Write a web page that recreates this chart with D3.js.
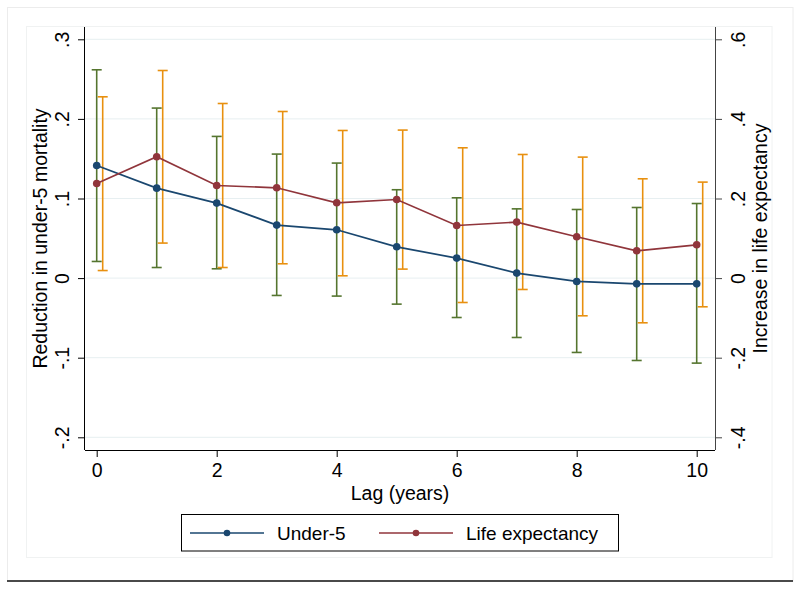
<!DOCTYPE html>
<html>
<head>
<meta charset="utf-8">
<script src="https://cdn.jsdelivr.net/npm/d3@7"></script>
<style>
  body { margin: 0; background: #fff; }
  text { font-family: "Liberation Sans", Arial, Helvetica, sans-serif; fill: #000; }
</style>
</head>
<body>
<script>
// Data
var lags = [0, 1, 2, 3, 4, 5, 6, 7, 8, 9, 10];

// Under-5 mortality reduction (left axis) with 95% CI
var u5Est = [0.1415, 0.113, 0.0942, 0.0666, 0.0607, 0.0393, 0.0251, 0.0063, -0.0042, -0.0072, -0.0072];
var u5Lo  = [0.0209, 0.0133, 0.0117, -0.0218, -0.0226, -0.0327, -0.0495, -0.0746, -0.0934, -0.1035, -0.1068];
var u5Hi  = [0.2617, 0.2136, 0.178, 0.1558, 0.1445, 0.111, 0.1009, 0.087, 0.0862, 0.0887, 0.0937];

// Life expectancy increase (right axis) with 95% CI
var leEst = [0.2377, 0.3048, 0.2327, 0.2269, 0.1892, 0.1975, 0.1322, 0.1407, 0.1038, 0.0686, 0.0837];
var leLo  = [0.019, 0.088, 0.0266, 0.036, 0.0058, 0.0226, -0.0613, -0.0286, -0.0947, -0.1123, -0.0721];
var leHi  = [0.4555, 0.5216, 0.4387, 0.4186, 0.3709, 0.3719, 0.3274, 0.3106, 0.304, 0.2495, 0.2412];

var xTicks = [0, 2, 4, 6, 8, 10];
var leftTicks = [-0.2, -0.1, 0, 0.1, 0.2, 0.3];
var rightTicks = [-0.4, -0.2, 0, 0.2, 0.4, 0.6];

var width = 800, height = 589;
var plotL = 85, plotR = 715, plotT = 27, plotB = 450;

var navy = "#1a476f", maroon = "#90353b", green = "#55752f", orange = "#e8900f";

var svg = d3.select("body").append("svg")
    .attr("width", width)
    .attr("height", height);

// frames
svg.append("rect").attr("x", 7.5).attr("y", 7.5).attr("width", 785.5).attr("height", 573.5)
    .attr("fill", "#fff").attr("stroke", "#ececec");
svg.append("rect").attr("x", 26.5).attr("y", 26.5).attr("width", 745.5).attr("height", 531)
    .attr("fill", "#fff").attr("stroke", "#f0f2f2");
svg.append("line").attr("x1", 7).attr("x2", 793).attr("y1", 581).attr("y2", 581)
    .attr("stroke", "#4a4a4a").attr("stroke-width", 2);

// scales
var x = d3.scaleLinear().domain([0, 10]).range([96.7, 696.7]);
var yL = d3.scaleLinear().domain([-0.2, 0.3]).range([437.3, 39.3]);
var yR = d3.scaleLinear().domain([-0.4, 0.6]).range([437.3, 39.3]);

var fmt = function(d) {
    if (Math.abs(d) < 1e-9) return "0";
    return (d < 0 ? "-" : "") + String(Math.abs(d).toFixed(1)).replace(/^0/, "");
};

// gridlines
svg.append("g").selectAll("line")
    .data(leftTicks)
    .enter().append("line")
    .attr("x1", plotL).attr("x2", plotR)
    .attr("y1", d => yL(d)).attr("y2", d => yL(d))
    .attr("stroke", "#e7eff1").attr("stroke-width", 1);

// axes
var xAxis = svg.append("g")
    .attr("transform", "translate(0," + plotB + ")")
    .call(d3.axisBottom(x).tickValues(xTicks).tickSize(7).tickPadding(6).tickFormat(d3.format("d")));
xAxis.select(".domain").attr("d", "M" + plotL + ",0.5H" + plotR).attr("stroke", "#000");

var leftAxis = svg.append("g")
    .attr("transform", "translate(" + plotL + ",0)")
    .call(d3.axisLeft(yL).tickValues(leftTicks).tickSize(7).tickFormat(fmt));
leftAxis.select(".domain").attr("d", "M-0.5," + plotT + "V" + plotB).attr("stroke", "#000");
leftAxis.selectAll(".tick text")
    .attr("x", 0).attr("dy", 0)
    .attr("transform", "translate(-16.5,0) rotate(-90)")
    .attr("text-anchor", "middle");

var rightAxis = svg.append("g")
    .attr("transform", "translate(" + plotR + ",0)")
    .call(d3.axisRight(yR).tickValues(rightTicks).tickSize(7).tickFormat(fmt));
rightAxis.select(".domain").attr("d", "M0.5," + plotT + "V" + plotB).attr("stroke", "#444");
rightAxis.selectAll(".tick line").attr("stroke", "#444");
rightAxis.selectAll(".tick text")
    .attr("x", 0).attr("dy", 0)
    .attr("transform", "translate(29.5,0) rotate(-90)")
    .attr("text-anchor", "middle");

svg.selectAll(".tick text").style("font-size", "19.5px").attr("fill", "#000")
    .style("font-family", "'Liberation Sans', Arial, sans-serif");

// axis titles
svg.append("text")
    .attr("transform", "translate(47," + (plotT + plotB) / 2 + ") rotate(-90)")
    .attr("text-anchor", "middle")
    .style("font-size", "19.5px")
    .text("Reduction in under-5 mortality");

svg.append("text")
    .attr("transform", "translate(767," + (plotT + plotB) / 2 + ") rotate(-90)")
    .attr("text-anchor", "middle")
    .style("font-size", "19.5px")
    .text("Increase in life expectancy");

svg.append("text")
    .attr("x", (plotL + plotR) / 2)
    .attr("y", 500)
    .attr("text-anchor", "middle")
    .style("font-size", "19.5px")
    .text("Lag (years)");

// error bars
function drawCI(lo, hi, yScale, color, shift) {
    var g = svg.append("g").attr("stroke", color).attr("stroke-width", 1.6).attr("fill", "none");
    lags.forEach(function(l, i) {
        var cx = x(l + shift);
        g.append("line").attr("x1", cx).attr("x2", cx).attr("y1", yScale(lo[i])).attr("y2", yScale(hi[i]));
        g.append("line").attr("x1", cx - 5).attr("x2", cx + 5).attr("y1", yScale(lo[i])).attr("y2", yScale(lo[i]));
        g.append("line").attr("x1", cx - 5).attr("x2", cx + 5).attr("y1", yScale(hi[i])).attr("y2", yScale(hi[i]));
    });
}
drawCI(u5Lo, u5Hi, yL, green, 0);
drawCI(leLo, leHi, yR, orange, 0.1);

// lines and markers
function drawSeries(vals, yScale, color) {
    var line = d3.line().x((d, i) => x(lags[i])).y(d => yScale(d));
    svg.append("path")
        .datum(vals)
        .attr("d", line)
        .attr("fill", "none")
        .attr("stroke", color)
        .attr("stroke-width", 1.7);
    svg.append("g").selectAll("circle")
        .data(vals)
        .enter().append("circle")
        .attr("cx", (d, i) => x(lags[i]))
        .attr("cy", d => yScale(d))
        .attr("r", 3.8)
        .attr("fill", color);
}
drawSeries(u5Est, yL, navy);
drawSeries(leEst, yR, maroon);

// legend
var legend = svg.append("g");
legend.append("rect")
    .attr("x", 181.5).attr("y", 514.5).attr("width", 437).attr("height", 36.5)
    .attr("fill", "#fff").attr("stroke", "#000").attr("stroke-width", 1);

var legendItems = [
    {label: "Under-5", color: navy, x0: 190},
    {label: "Life expectancy", color: maroon, x0: 379}
];
legendItems.forEach(function(it) {
    legend.append("line")
        .attr("x1", it.x0).attr("x2", it.x0 + 74).attr("y1", 533).attr("y2", 533)
        .attr("stroke", it.color).attr("stroke-width", 1.6);
    legend.append("circle")
        .attr("cx", it.x0 + 37).attr("cy", 533).attr("r", 3.3).attr("fill", it.color);
    legend.append("text")
        .attr("x", it.x0 + 87).attr("y", 540)
        .style("font-size", "19px")
        .text(it.label);
});
</script>
</body>
</html>
